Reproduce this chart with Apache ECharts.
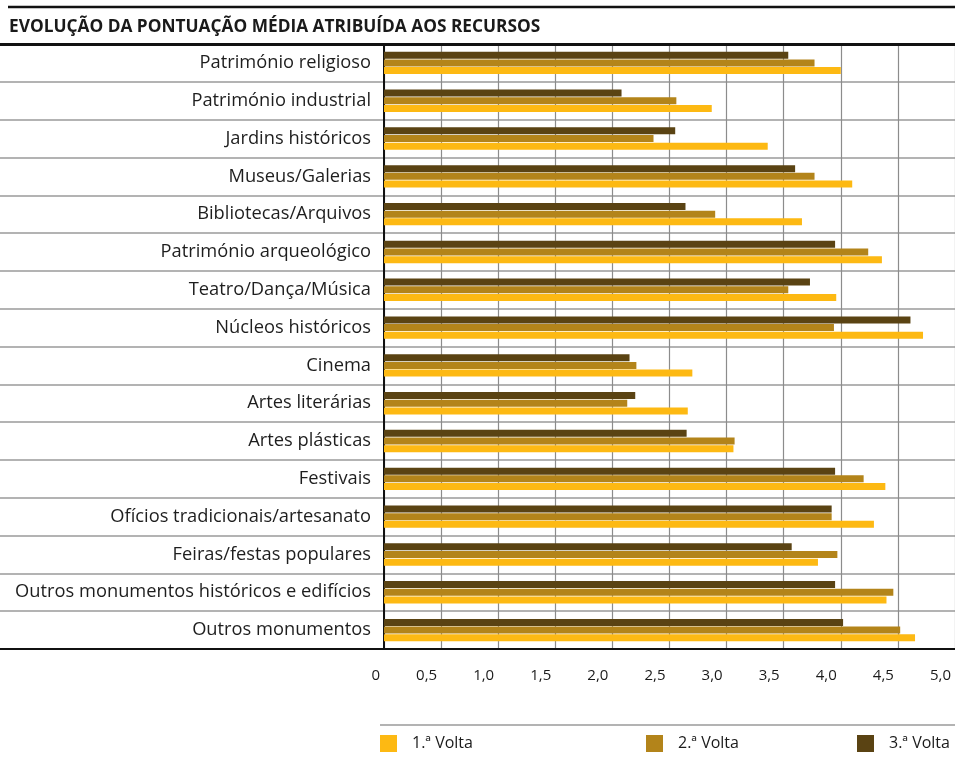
<!DOCTYPE html>
<html>
<head>
<meta charset="utf-8">
<script src="https://cdn.jsdelivr.net/npm/echarts@6/dist/echarts.min.js"></script>
<style>
  html, body { margin: 0; padding: 0; background: #fff; }
  #chart { width: 955px; height: 759px; }
</style>
</head>
<body>
<div id="chart"></div>
<script>
// Resources, top to bottom
const categories = [
  'Património religioso',
  'Património industrial',
  'Jardins históricos',
  'Museus/Galerias',
  'Bibliotecas/Arquivos',
  'Património arqueológico',
  'Teatro/Dança/Música',
  'Núcleos históricos',
  'Cinema',
  'Artes literárias',
  'Artes plásticas',
  'Festivais',
  'Ofícios tradicionais/artesanato',
  'Feiras/festas populares',
  'Outros monumentos históricos e edifícios',
  'Outros monumentos'
];

// Average score per round
const volta1 = [4.00, 2.87, 3.36, 4.10, 3.66, 4.36, 3.96, 4.72, 2.70, 2.66, 3.06, 4.39, 4.29, 3.80, 4.40, 4.65];
const volta2 = [3.77, 2.56, 2.36, 3.77, 2.90, 4.24, 3.54, 3.94, 2.21, 2.13, 3.07, 4.20, 3.92, 3.97, 4.46, 4.52];
const volta3 = [3.54, 2.08, 2.55, 3.60, 2.64, 3.95, 3.73, 4.61, 2.15, 2.20, 2.65, 3.95, 3.92, 3.57, 3.95, 4.02];

const seriesNames = ['1.ª Volta', '2.ª Volta', '3.ª Volta'];
const tickLabels = ['0', '0,5', '1,0', '1,5', '2,0', '2,5', '3,0', '3,5', '4,0', '4,5', '5,0'];

const colors = { v1: '#FDB913', v2: '#B3841A', v3: '#5A4313' };
const FONT = '"Open Sans", "Noto Sans", sans-serif';

const chart = echarts.init(document.getElementById('chart'), null, { renderer: 'canvas' });

const legendBase = {
  orient: 'horizontal',
  top: 735,
  padding: 0,
  itemWidth: 17,
  itemHeight: 17,
  icon: 'rect',
  textStyle: { fontFamily: FONT, fontSize: 16, color: '#1a1a1a', padding: [0, 0, 0, 10] }
};

chart.setOption({
  animation: false,
  backgroundColor: '#fff',
  title: {
    text: 'EVOLUÇÃO DA PONTUAÇÃO MÉDIA ATRIBUÍDA AOS RECURSOS',
    left: 4,
    top: 14,
    textStyle: { fontFamily: FONT, fontWeight: 'bold', fontSize: 17.3, color: '#1a1a1a' }
  },
  legend: [
    Object.assign({}, legendBase, { left: 380, data: [seriesNames[0]] }),
    Object.assign({}, legendBase, { left: 646, data: [seriesNames[1]] }),
    Object.assign({}, legendBase, { left: 857, data: [seriesNames[2]] })
  ],
  graphic: [
    { type: 'line', shape: { x1: 8, y1: 7, x2: 955, y2: 7 }, style: { stroke: '#111', lineWidth: 2.5 }, silent: true },
    { type: 'line', shape: { x1: 380, y1: 725, x2: 955, y2: 725 }, style: { stroke: '#9a9a9a', lineWidth: 1.5 }, silent: true }
  ],
  grid: [
    // full-width band: row separators and the heavy rules
    { left: 0, right: 0, top: 44, height: 605 },
    // plotting area
    { left: 384, width: 573, top: 44, height: 605 }
  ],
  xAxis: [
    { gridIndex: 0, type: 'value', min: 0, max: 1, position: 'top', axisLine: { show: true, lineStyle: { color: '#111', width: 3 } }, axisTick: { show: false }, axisLabel: { show: false }, splitLine: { show: false } },
    { gridIndex: 0, type: 'value', min: 0, max: 1, position: 'bottom', axisLine: { show: true, lineStyle: { color: '#111', width: 2 } }, axisTick: { show: false }, axisLabel: { show: false }, splitLine: { show: false } },
    {
      gridIndex: 1, type: 'value', min: 0, max: 5, interval: 0.5,
      axisLine: { show: false }, axisTick: { show: false },
      splitLine: { show: true, lineStyle: { color: '#8c8c8c', width: 1.2 } },
      axisLabel: {
        fontFamily: FONT, fontSize: 15, color: '#1a1a1a', margin: 19, align: 'right', padding: [0, 4, 0, 0],
        formatter: v => tickLabels[Math.round(v / 0.5)]
      }
    }
  ],
  yAxis: [
    {
      gridIndex: 0, type: 'category', data: categories, inverse: true,
      axisLine: { show: false }, axisTick: { show: false }, axisLabel: { show: false },
      splitLine: { show: true, lineStyle: { color: '#9a9a9a', width: 1.5 } }
    },
    {
      gridIndex: 1, type: 'category', data: categories, inverse: true,
      axisLine: { show: true, lineStyle: { color: '#111', width: 2 } },
      axisTick: { show: false },
      splitLine: { show: false },
      axisLabel: { fontFamily: FONT, fontSize: 18.3, color: '#1e1e1e', margin: 13 }
    }
  ],
  series: [
    { name: seriesNames[2], type: 'bar', xAxisIndex: 2, yAxisIndex: 1, data: volta3, barWidth: 7, barGap: '10%', itemStyle: { color: colors.v3 } },
    { name: seriesNames[1], type: 'bar', xAxisIndex: 2, yAxisIndex: 1, data: volta2, barWidth: 7, barGap: '10%', itemStyle: { color: colors.v2 } },
    { name: seriesNames[0], type: 'bar', xAxisIndex: 2, yAxisIndex: 1, data: volta1, barWidth: 7, barGap: '10%', itemStyle: { color: colors.v1 } }
  ]
});
</script>
</body>
</html>
